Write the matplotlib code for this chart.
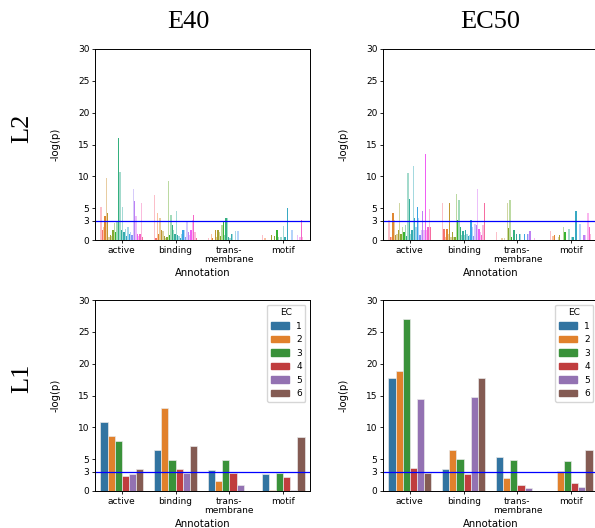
import numpy as np
import matplotlib.pyplot as plt
import seaborn as sns

# Categories
annotations = ['active', 'binding', 'trans-\nmembrane', 'motif']
ec_classes = ['1', '2', '3', '4', '5', '6']
col_titles = ['E40', 'EC50']
row_titles = ['L2', 'L1']

# L2 level: many sub-classes per annotation (E40)
e40_l2_active = [5.2, 1.6, 2.1, 3.8, 9.7, 4.2, 0.5, 0.8, 0.6, 1.6, 2.6, 1.3, 2.9, 16.0, 10.7, 1.6,
                 5.2, 1.3, 1.8, 0.6, 2.1, 1.0, 1.3, 0.8, 8.0, 6.2, 3.7, 1.0, 0.6, 1.0, 5.8, 0.5]
e40_l2_binding = [7.1, 0.3, 4.2, 1.0, 3.4, 1.6, 1.4, 0.6, 0.3, 0.5, 9.2, 0.8, 3.9, 2.4, 1.6, 1.0,
                  4.6, 0.8, 0.6, 0.3, 1.0, 1.6, 1.6, 0.5, 2.9, 1.3, 0.8, 1.6, 3.1, 3.9, 1.3, 0.3]
e40_l2_trans = [0.3, 0, 0.9, 0.3, 0, 1.5, 0.4, 1.6, 1.2, 0.6, 2.4, 2.9, 0.8, 3.4, 3.5, 0.5,
                0.3, 0.9, 1.0, 0, 1.4, 0, 1.4, 0, 0, 0, 0, 0, 0, 0, 0, 0]
e40_l2_motif = [0.8, 0, 0.3, 0, 0, 0, 0, 0.8, 0, 0.7, 0, 1.6, 0.5, 0, 0.4, 0,
                2.2, 0.5, 0, 5.1, 0, 0, 1.5, 0, 0, 0, 0.8, 0, 0.5, 3.1, 0.5, 0]

# L2 level (EC50)
ec50_l2_active = [3.2, 0.5, 0.5, 4.2, 3.1, 0.8, 0.9, 1.5, 5.8, 1.0, 2.1, 1.3, 2.3, 0.6, 10.5, 6.5,
                  1.0, 1.6, 11.6, 3.4, 2.1, 5.2, 3.4, 0.8, 1.6, 4.6, 1.6, 13.5, 1.6, 2.1, 4.8, 2.1]
ec50_l2_binding = [5.8, 1.7, 0.5, 1.7, 1.0, 5.8, 0.5, 1.2, 0.4, 0.5, 7.2, 3.1, 6.3, 2.1, 0.8, 1.4,
                   0.8, 1.6, 1.0, 0.6, 0.8, 3.1, 2.1, 0.6, 2.5, 2.3, 8.0, 1.8, 1.3, 0.8, 2.3, 5.8]
ec50_l2_trans = [1.2, 0, 0, 0, 0.3, 0, 0.3, 0, 5.8, 1.9, 6.3, 0.4, 0, 1.6, 0, 1.0,
                 0, 0.9, 0.9, 0, 0, 0.9, 0, 0.9, 0.9, 1.4, 0, 0, 0.3, 0, 0, 0]
ec50_l2_motif = [1.4, 0, 0.6, 0.8, 0, 0, 0.4, 0.8, 0, 0, 2.1, 1.2, 0, 0, 1.7, 0,
                 0.5, 0.4, 0, 4.5, 0, 0, 2.5, 0, 0, 0.8, 0.8, 0, 4.3, 2.1, 1.0, 0]

# L1 level: one value per EC class per annotation
e40_l1_active = [10.8, 8.6, 7.9, 2.4, 2.6, 3.5]
e40_l1_binding = [6.4, 13.1, 4.8, 3.5, 2.8, 7.1]
e40_l1_trans = [3.3, 1.5, 4.9, 2.8, 1.0, 0]
e40_l1_motif = [2.6, 0.2, 2.8, 2.2, 0.2, 8.5]

ec50_l1_active = [17.8, 18.9, 27.0, 3.65, 14.5, 2.9]
ec50_l1_binding = [3.4, 6.4, 5.0, 2.7, 14.7, 17.7]
ec50_l1_trans = [5.4, 2.0, 4.9, 0.9, 0.4, 0]
ec50_l1_motif = [0, 3.2, 4.7, 1.2, 0.7, 6.4]

threshold = 3
yticks = [0, 3, 5, 10, 15, 20, 25, 30]

ec_colors = ['#3274A1', '#E1812C', '#3A923A', '#C03D3E', '#9372B2', '#845B53']
sub_colors = sns.color_palette('husl', 32)


def style_axes(ax):
    ax.set_xlim(-0.5, len(annotations) - 0.5)
    ax.set_ylim(0, 30)
    ax.set_yticks(yticks)
    ax.set_xticks(range(len(annotations)))
    ax.set_xticklabels(annotations, fontsize=6.5, linespacing=1.0)
    ax.tick_params(axis='y', labelsize=6.5, length=2, width=0.6, pad=2)
    ax.tick_params(axis='x', length=2, width=0.6, pad=2)
    for s in ax.spines.values():
        s.set_linewidth(0.7)
    ax.axhline(threshold, color='blue', lw=0.9)
    ax.set_ylabel('-log(p)', fontsize=7.3)
    ax.yaxis.set_label_coords(-0.16, 0.5)
    ax.set_xlabel('Annotation', fontsize=7.3)
    ax.xaxis.set_label_coords(0.5, -0.145)


def grouped_bars(ax, groups, colors, alphas=None, edge=None):
    n = len(groups[0])
    w = 0.8 / n
    for i in range(n):
        xs = np.arange(len(groups)) - 0.4 + w * (i + 0.5)
        vals = [g[i] for g in groups]
        a = 1.0 if alphas is None else alphas[i]
        ax.bar(xs, vals, width=w, color=colors[i], alpha=a,
               linewidth=0 if edge is None else 0.5,
               edgecolor='none' if edge is None else edge)


fig = plt.figure(figsize=(5.95, 5.28), dpi=100)

lefts = [95 / 595, 383 / 595]
bottoms = [1 - 240 / 528, 1 - 491 / 528]
w_ax, h_ax = 215 / 595, 191 / 528

l2_data = [[e40_l2_active, e40_l2_binding, e40_l2_trans, e40_l2_motif],
           [ec50_l2_active, ec50_l2_binding, ec50_l2_trans, ec50_l2_motif]]
l1_data = [[e40_l1_active, e40_l1_binding, e40_l1_trans, e40_l1_motif],
           [ec50_l1_active, ec50_l1_binding, ec50_l1_trans, ec50_l1_motif]]

sub_alphas = [0.45 if i % 2 == 0 else 1.0 for i in range(32)]

for c in range(2):
    # top row: L2
    ax = fig.add_axes([lefts[c], bottoms[0], w_ax, h_ax])
    grouped_bars(ax, l2_data[c], sub_colors, sub_alphas)
    style_axes(ax)

    # bottom row: L1
    ax = fig.add_axes([lefts[c], bottoms[1], w_ax, h_ax])
    grouped_bars(ax, l1_data[c], ec_colors, edge='#e8e8e8')
    style_axes(ax)
    handles = [plt.Rectangle((0, 0), 1, 1, color=ec_colors[i]) for i in range(6)]
    ax.legend(handles, ec_classes, title='EC', loc='upper right', fontsize=6.5,
              title_fontsize=6.5, handlelength=2.0, handleheight=0.7)

# column and row headers
fig.text(188 / 595, 1 - 22 / 528, col_titles[0], ha='center', va='center',
         fontsize=19, family='Liberation Serif')
fig.text(490 / 595, 1 - 22 / 528, col_titles[1], ha='center', va='center',
         fontsize=19, family='Liberation Serif')
fig.text(22 / 595, 1 - 128 / 528, row_titles[0], ha='center', va='center',
         fontsize=19, family='Liberation Serif', rotation=90)
fig.text(22 / 595, 1 - 378 / 528, row_titles[1], ha='center', va='center',
         fontsize=19, family='Liberation Serif', rotation=90)

fig.savefig('out.png', dpi=100)
